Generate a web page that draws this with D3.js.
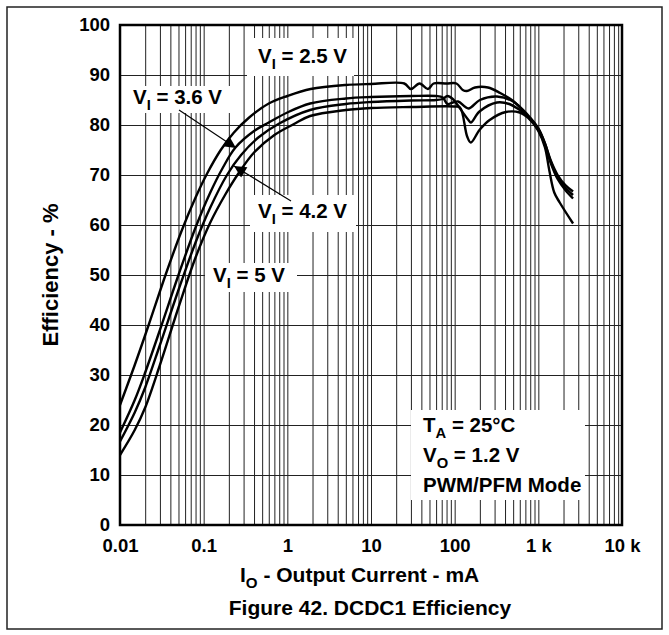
<!DOCTYPE html>
<html lang="en">
<head>
<meta charset="utf-8">
<title>DCDC1 Efficiency</title>
<script src="https://cdn.jsdelivr.net/npm/d3@7"></script>
<style>
	body { margin: 0; background: #fff; }
	text { font-family: Arial, "Liberation Sans", sans-serif; font-weight: bold; fill: #000; }
</style>
</head>
<body>
<svg width="669" height="635"></svg>
<script type="text/javascript">

	// axis ticks
	var xTicks = [0.01, 0.1, 1, 10, 100, 1000, 10000];
	var xTickLabels = ["0.01", "0.1", "1", "10", "100", "1 k", "10 k"];
	var yTicks = [0, 10, 20, 30, 40, 50, 60, 70, 80, 90, 100];

	// efficiency curves, [output current mA, efficiency %]
	var vi25 = [[0.01,24],[0.015,32],[0.022,40],[0.035,50],[0.055,59],[0.08,65.5],[0.11,70.3],[0.16,75],[0.23,78.5],[0.35,81.5],[0.6,84.3],[1,85.8],[1.9,87.2],[5,88],[10,88.2],[25,88.3],[30,87.2],[38,88.3],[48,87.2],[56,88.3],[80,88.3],[105,88.3],[125,87],[140,86.8],[175,87.5],[250,87.5],[350,86.4],[500,84.8],[700,82.3],[1000,78.8],[1200,75.5],[1350,71],[1550,66.5],[1800,64.5],[2600,60.3]];
	var vi36 = [[0.01,18.5],[0.015,25],[0.02,30.5],[0.03,39],[0.05,50],[0.08,59.5],[0.12,66.5],[0.17,71.5],[0.24,75.5],[0.4,78.8],[0.6,80.5],[1,82.5],[1.87,84.3],[5,85.3],[10,85.6],[30,85.8],[60,85.8],[72,85.5],[82,84.2],[95,84.5],[110,84.7],[146,83.3],[200,85],[320,85.7],[500,84.7],[750,82],[1000,79.3],[1200,76.3],[1400,73],[1700,70],[2100,68],[2600,66.7]];
	var vi42 = [[0.01,16.7],[0.015,22.5],[0.02,27.5],[0.03,36],[0.05,47],[0.08,56.5],[0.12,63.5],[0.19,70],[0.28,74],[0.45,77.5],[0.8,80.3],[1.87,83],[5,84.2],[10,84.6],[30,84.9],[60,85],[72,85.2],[82,85.8],[95,85.2],[105,84.3],[146,81],[156,80.5],[198,82.7],[320,84.5],[450,84.2],[600,83],[750,81.8],[1000,79.3],[1200,76.3],[1400,72.8],[1700,69.5],[2100,67.5],[2600,66]];
	var vi50 = [[0.01,14],[0.015,19],[0.02,23.5],[0.03,32],[0.05,43.5],[0.08,53.5],[0.12,60.5],[0.18,66],[0.26,70.3],[0.4,74.5],[0.7,78],[1.2,80.2],[1.87,81.8],[5,83],[10,83.4],[30,83.6],[100,83.7],[116,83.5],[141,77.7],[156,76.5],[198,79],[262,81],[410,82.6],[600,82.5],[750,81.5],[1000,79],[1200,76],[1400,72.5],[1700,69.2],[2100,67],[2600,65.3]];

	var svg = d3.select("svg");

	var x = d3.scaleLog().domain([0.01, 10000]).range([120, 622]);
	var y = d3.scaleLinear().domain([0, 100]).range([525, 25]);

	// outer frame of the figure
	svg.append("rect")
		.attr("x", 7).attr("y", 7)
		.attr("width", 655).attr("height", 622)
		.attr("fill", "none").attr("stroke", "#222").attr("stroke-width", 1.5);

	// grid
	svg.append("g")
		.attr("transform", "translate(0,525)")
		.call(d3.axisBottom(x).tickValues(x.ticks()).tickSize(-500).tickFormat(""))
		.call(function(g) {
			g.select(".domain").remove();
			g.selectAll("line").attr("stroke", "#222").attr("stroke-width", 1);
		});

	svg.append("g")
		.attr("transform", "translate(120,0)")
		.call(d3.axisLeft(y).tickValues(yTicks).tickSize(-502).tickFormat(""))
		.call(function(g) {
			g.select(".domain").remove();
			g.selectAll("line").attr("stroke", "#222").attr("stroke-width", 1);
		});

	// tick labels
	svg.append("g")
		.attr("transform", "translate(0,525)")
		.call(d3.axisBottom(x).tickValues(xTicks).tickSize(0).tickPadding(14)
			.tickFormat(function(d, i) { return xTickLabels[i]; }))
		.call(function(g) {
			g.select(".domain").remove();
			g.selectAll("text").attr("font-size", 18.5).attr("font-family", null);
		});

	svg.append("g")
		.attr("transform", "translate(120,0)")
		.call(d3.axisLeft(y).tickValues(yTicks).tickSize(0).tickPadding(10))
		.call(function(g) {
			g.select(".domain").remove();
			g.selectAll("text").attr("font-size", 18.5).attr("font-family", null);
		});

	// white boxes behind the labels
	var boxes = [[247,38,107,38],[127,86,103,27],[250,195,106,37],[205,263,92,29],[411,410,174,90]];
	svg.selectAll(".box").data(boxes)
		.enter().append("rect")
		.attr("class", "box")
		.attr("x", function(d) { return d[0]; })
		.attr("y", function(d) { return d[1]; })
		.attr("width", function(d) { return d[2]; })
		.attr("height", function(d) { return d[3]; })
		.attr("fill", "#fff");

	// plot frame
	svg.append("rect")
		.attr("x", 120).attr("y", 25)
		.attr("width", 502).attr("height", 500)
		.attr("fill", "none").attr("stroke", "#000").attr("stroke-width", 2.5);

	// curves
	var line = d3.line()
		.x(function(d) { return x(d[0]); })
		.y(function(d) { return y(d[1]); })
		.curve(d3.curveCatmullRom.alpha(0.5));

	svg.selectAll(".curve").data([vi25, vi36, vi42, vi50])
		.enter().append("path")
		.attr("class", "curve")
		.attr("d", line)
		.attr("fill", "none")
		.attr("stroke", "#000")
		.attr("stroke-width", 2.4)
		.attr("stroke-linejoin", "round");

	// arrows
	svg.append("defs").append("marker")
		.attr("id", "head")
		.attr("viewBox", "0 0 10 10")
		.attr("refX", 10).attr("refY", 5)
		.attr("markerUnits", "userSpaceOnUse")
		.attr("markerWidth", 14).attr("markerHeight", 12)
		.attr("orient", "auto")
		.append("path").attr("d", "M0,0L10,5L0,10Z").attr("fill", "#000");

	svg.append("line")
		.attr("x1", 179).attr("y1", 110).attr("x2", 236).attr("y2", 148)
		.attr("stroke", "#000").attr("stroke-width", 1.2)
		.attr("marker-end", "url(#head)");
	svg.append("line")
		.attr("x1", 291).attr("y1", 201).attr("x2", 234).attr("y2", 166)
		.attr("stroke", "#000").attr("stroke-width", 1.2)
		.attr("marker-end", "url(#head)");

	// text with a subscript
	function label(px, py, main, sub, rest, size) {
		var t = svg.append("text").attr("x", px).attr("y", py).attr("font-size", size);
		t.append("tspan").text(main);
		t.append("tspan").attr("dy", 6).attr("font-size", size * 0.72).text(sub);
		t.append("tspan").attr("dy", -6).text(rest);
		return t;
	}

	label(258, 63, "V", "I", " = 2.5 V", 20.5);
	label(133, 104, "V", "I", " = 3.6 V", 20.5);
	label(258, 218, "V", "I", " = 4.2 V", 20.5);
	label(213, 282, "V", "I", " = 5 V", 20.5);

	label(423, 432, "T", "A", " = 25\u00b0C", 20.5);
	label(423, 462, "V", "O", " = 1.2 V", 20.5);
	svg.append("text").attr("x", 423).attr("y", 492).attr("font-size", 20.5).text("PWM/PFM Mode");

	// axis titles
	svg.append("text")
		.attr("transform", "translate(58,275) rotate(-90)")
		.attr("text-anchor", "middle")
		.attr("font-size", 22)
		.text("Efficiency - %");

	var xt = label(0, 582, "I", "O", " - Output Current - mA", 21);
	xt.attr("x", 240);

	svg.append("text")
		.attr("x", 370).attr("y", 615)
		.attr("text-anchor", "middle")
		.attr("font-size", 21)
		.text("Figure 42. DCDC1 Efficiency");

</script>
</body>
</html>
